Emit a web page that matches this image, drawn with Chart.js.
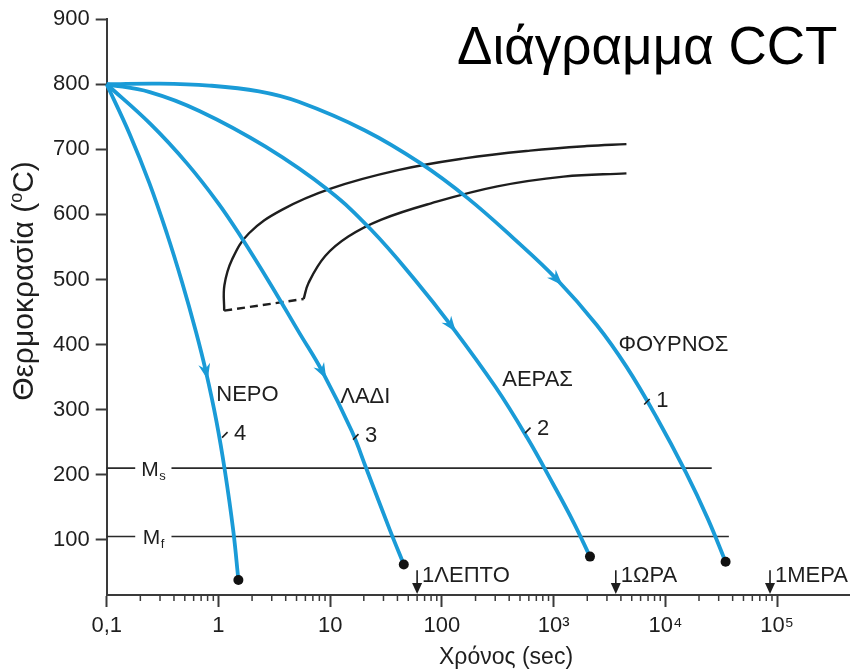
<!DOCTYPE html>
<html>
<head>
<meta charset="utf-8">
<script src="https://cdn.jsdelivr.net/npm/chart.js@4/dist/chart.umd.min.js"></script>
<style>
  html, body { margin: 0; padding: 0; background: #fff; }
  #wrap { width: 854px; height: 672px; }
</style>
</head>
<body>
<div id="wrap"><canvas id="cct" width="854" height="672"></canvas></div>
<script>
// Cooling curves: time in seconds, temperature in °C
const curveNames   = ['ΦΟΥΡΝΟΣ', 'ΑΕΡΑΣ', 'ΛΑΔΙ', 'ΝΕΡΟ'];
const curveNumbers = ['1', '2', '3', '4'];

const furnaceTime = [0.1, 0.298, 0.828, 2.31, 5.23, 20.5, 65.2, 170, 426, 1070, 2430, 4480, 8280, 15300, 24000, 34600];
const furnaceTemp = [800, 801, 798, 789, 773, 729, 678, 625, 565, 500, 430, 366, 289, 203, 132, 66];

const airTime = [0.1, 0.243, 0.675, 2.64, 9.66, 23.4, 57.0, 121, 301, 579, 986, 1515, 2115];
const airTemp = [800, 788, 759, 704, 637, 576, 500, 429, 335, 257, 186, 126, 74];

const oilTime = [0.1, 0.246, 0.525, 0.998, 1.585, 2.87, 5.25, 8.54, 15.6, 21.1, 34.4, 45.6];
const oilTemp = [800, 739, 678, 617, 566, 495, 419, 358, 267, 209, 114, 62];

const waterTime = [0.1, 0.16, 0.241, 0.345, 0.474, 0.631, 0.774, 0.96, 1.142, 1.357, 1.509];
const waterTemp = [800, 724, 648, 571, 495, 419, 358, 282, 206, 114, 38];

// Transformation start / finish curves
const startTime  = [1.126, 1.131, 1.327, 1.878, 3.691, 10.27, 40.47, 158.5, 615.8, 1977, 4483];
const startTemp  = [452, 491, 531, 571, 607, 640, 668, 686, 698, 705, 708];
const finishTime = [5.789, 6.415, 9.028, 14.54, 28.75, 80.02, 313.3, 1227, 4483];
const finishTemp = [470, 495, 536, 566, 592, 617, 643, 658, 663];

// Martensite start / finish temperatures
const msTemp = 210;
const mfTemp = 105;
const msLineEnd = 26000;
const mfLineEnd = 37000;
const msGap = [0.18, 0.38];

// Reference durations marked on the time axis
const markerTimes  = [60, 3600, 86400];
const markerLabels = ['1ΛΕΠΤΟ', '1ΩΡΑ', '1ΜΕΡΑ'];

// Axis ticks
const xTickValues = [0.1, 1, 10, 100, 1000, 10000, 100000];
const xTickLabels = ['0,1', '1', '10', '100', '10³', '10⁴', '10⁵'];
const yTickValues = [100, 200, 300, 400, 500, 600, 700, 800, 900];

const FONT = '"Liberation Sans", Arial, Helvetica, sans-serif';
const BLUE = '#1a9bd7';
const INK = '#1e1e1e';
const AXIS = '#3a3a3a';

const zip = (xs, ys) => xs.map((v, i) => ({ x: v, y: ys[i] }));

const coolingSets = [
  [furnaceTime, furnaceTemp, 9],
  [airTime, airTemp, 7],
  [oilTime, oilTemp, 7],
  [waterTime, waterTemp, 6]
].map(([t, T, arrowAt], i) => ({
  label: curveNames[i],
  data: zip(t, T),
  borderColor: BLUE,
  borderWidth: 3.8,
  tension: 0.4,
  capBezierPoints: false,
  clip: false,
  arrowAt: arrowAt,
  pointRadius: ctx => ctx.dataIndex === t.length - 1 ? 5 : 0,
  pointBackgroundColor: '#111',
  pointBorderWidth: 0,
  order: 1
}));

const blackLine = (data, extra) => Object.assign({
  data: data,
  borderColor: INK,
  borderWidth: 2.4,
  pointRadius: 0,
  tension: 0.4,
  capBezierPoints: false,
  clip: false,
  order: 2
}, extra || {});

const datasets = [
  ...coolingSets,
  blackLine(zip(startTime, startTemp), { label: 'start' }),
  blackLine(zip(finishTime, finishTemp), { label: 'finish' }),
  blackLine([{ x: startTime[0], y: startTemp[0] }, { x: finishTime[0], y: finishTemp[0] }],
            { label: 'link', borderDash: [8, 5], tension: 0 }),
  blackLine([{ x: 0.1, y: msTemp }, { x: msGap[0], y: msTemp }, { x: 0.26, y: null },
             { x: msGap[1], y: msTemp }, { x: msLineEnd, y: msTemp }],
            { label: 'Ms', borderWidth: 1.6, borderColor: '#2a2a2a', spanGaps: false, tension: 0 }),
  blackLine([{ x: 0.1, y: mfTemp }, { x: msGap[0], y: mfTemp }, { x: 0.26, y: null },
             { x: msGap[1], y: mfTemp }, { x: mfLineEnd, y: mfTemp }],
            { label: 'Mf', borderWidth: 1.6, borderColor: '#2a2a2a', spanGaps: false, tension: 0 })
];

// where the written labels sit, in data units
const nameSpots   = [[3800, 399], [347, 346], [12.3, 320], [0.956, 323]];
const numberSpots = [[8280, 314], [710, 270], [20.5, 260], [1.38, 263]];

function put(ctx, s, x, y, size, align, base) {
  ctx.font = size + 'px ' + FONT;
  ctx.textAlign = align || 'left';
  ctx.textBaseline = base || 'middle';
  ctx.fillText(s, x, y);
}

const cctDecor = {
  id: 'cctDecor',
  afterDraw(chart) {
    const { ctx, chartArea: area } = chart;
    const xs = chart.scales.x, ys = chart.scales.y;
    ctx.save();

    // minor ticks of the logarithmic time axis
    ctx.strokeStyle = AXIS;
    ctx.lineWidth = 1.5;
    for (let d = -1; d < 5; d++) {
      for (let k = 2; k < 10; k++) {
        const px = xs.getPixelForValue(k * Math.pow(10, d));
        ctx.beginPath();
        ctx.moveTo(px, area.bottom);
        ctx.lineTo(px, area.bottom + 6);
        ctx.stroke();
      }
    }

    // arrowheads along the cooling curves
    ctx.fillStyle = BLUE;
    chart.data.datasets.forEach((ds, i) => {
      if (ds.arrowAt === undefined) return;
      const p = chart.getDatasetMeta(i).data[ds.arrowAt];
      let a = Math.atan2(p.cp2y - p.cp1y, p.cp2x - p.cp1x);
      if (!isFinite(a)) a = Math.PI / 2;
      const ux = Math.cos(a), uy = Math.sin(a), nx = -uy, ny = ux;
      ctx.beginPath();
      ctx.moveTo(p.x + ux * 8, p.y + uy * 8);
      ctx.lineTo(p.x - ux * 8 + nx * 6, p.y - uy * 8 + ny * 6);
      ctx.lineTo(p.x - ux * 3, p.y - uy * 3);
      ctx.lineTo(p.x - ux * 8 - nx * 6, p.y - uy * 8 - ny * 6);
      ctx.closePath();
      ctx.fill();
    });

    // curve names and numbers with their short leader strokes
    ctx.fillStyle = INK;
    nameSpots.forEach(([t, T], i) => put(ctx, curveNames[i], xs.getPixelForValue(t), ys.getPixelForValue(T), 22));
    ctx.strokeStyle = INK;
    ctx.lineWidth = 1.6;
    numberSpots.forEach(([t, T], i) => {
      const px = xs.getPixelForValue(t), py = ys.getPixelForValue(T);
      put(ctx, curveNumbers[i], px, py, 22);
      ctx.beginPath();
      ctx.moveTo(px - 12, py + 4);
      ctx.lineTo(px - 6.5, py - 1.5);
      ctx.stroke();
    });

    // Ms / Mf labels sitting in the gap of their lines
    [[msTemp, 's'], [mfTemp, 'f']].forEach(([T, sub]) => {
      const cx = (xs.getPixelForValue(msGap[0]) + xs.getPixelForValue(msGap[1])) / 2;
      const py = ys.getPixelForValue(T);
      ctx.font = '21px ' + FONT;
      const wM = ctx.measureText('M').width;
      ctx.font = '13px ' + FONT;
      const wS = ctx.measureText(sub).width;
      const left = cx - (wM + wS) / 2;
      put(ctx, 'M', left, py + 7.5, 21, 'left', 'alphabetic');
      put(ctx, sub, left + wM + 0.5, py + 11.5, 13, 'left', 'alphabetic');
    });

    // reference durations: down arrows onto the time axis
    ctx.lineWidth = 1.6;
    markerTimes.forEach((t, i) => {
      const px = xs.getPixelForValue(t);
      const top = ys.getPixelForValue(53);
      const bot = area.bottom - 1;
      ctx.beginPath();
      ctx.moveTo(px, top);
      ctx.lineTo(px, bot - 6);
      ctx.stroke();
      ctx.beginPath();
      ctx.moveTo(px, bot);
      ctx.lineTo(px - 5, bot - 11);
      ctx.lineTo(px + 5, bot - 11);
      ctx.closePath();
      ctx.fill();
      put(ctx, markerLabels[i], px + 5, ys.getPixelForValue(44), 22);
    });

    // chart title
    ctx.fillStyle = '#000';
    put(ctx, 'Διάγραμμα CCT', 457, 64, 53, 'left', 'alphabetic');

    // axis titles
    ctx.fillStyle = INK;
    put(ctx, 'Χρόνος (sec)', 506, 658, 23, 'center', 'middle');

    ctx.translate(33, 281);
    ctx.rotate(-Math.PI / 2);
    const parts = [['Θερμοκρασία (', 30, 0], ['o', 18, -11], ['C)', 30, 0]];
    let total = 0;
    parts.forEach(p => { ctx.font = p[1] + 'px ' + FONT; total += ctx.measureText(p[0]).width; });
    let cur = -total / 2;
    parts.forEach(p => {
      put(ctx, p[0], cur, p[2], p[1], 'left', 'alphabetic');
      ctx.font = p[1] + 'px ' + FONT;
      cur += ctx.measureText(p[0]).width;
    });
    ctx.restore();
  }
};

new Chart(document.getElementById('cct'), {
  type: 'line',
  data: { datasets: datasets },
  options: {
    responsive: false,
    animation: false,
    devicePixelRatio: 1,
    layout: { padding: { left: 0, right: 0, top: 14.4, bottom: 0 } },
    plugins: { legend: { display: false }, tooltip: { enabled: false } },
    scales: {
      x: {
        type: 'logarithmic',
        min: 0.1,
        max: 440000,
        afterFit(s) { s.height = 77; },
        afterBuildTicks(s) { s.ticks = xTickValues.map(v => ({ value: v })); },
        ticks: {
          autoSkip: false, maxRotation: 0, minRotation: 0, padding: 6,
          color: INK, font: { family: FONT, size: 22 },
          callback: (v, i) => xTickLabels[i]
        },
        grid: { drawOnChartArea: false, drawTicks: true, tickLength: 12, tickColor: AXIS, tickWidth: 2 },
        border: { display: true, color: AXIS, width: 2 }
      },
      y: {
        type: 'linear',
        min: 15,
        max: 900,
        afterFit(s) { s.width = 106.7; },
        afterBuildTicks(s) { s.ticks = yTickValues.map(v => ({ value: v })); },
        ticks: { padding: 6, color: INK, font: { family: FONT, size: 22 } },
        grid: { drawOnChartArea: false, drawTicks: true, tickLength: 11, tickColor: AXIS, tickWidth: 2 },
        border: { display: true, color: AXIS, width: 2 }
      }
    }
  },
  plugins: [cctDecor]
});
</script>
</body>
</html>
